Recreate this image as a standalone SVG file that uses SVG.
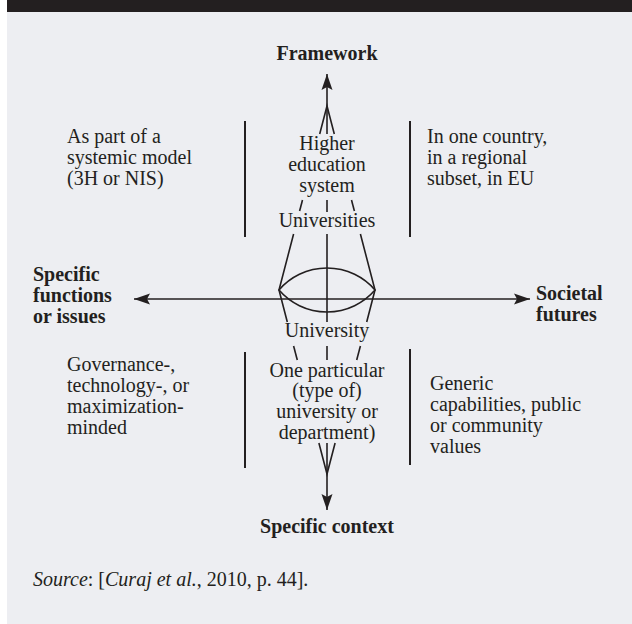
<svg xmlns="http://www.w3.org/2000/svg" width="632" height="624" viewBox="0 0 632 624">
<defs>
<style>
.t{font-family:"Liberation Serif","Times New Roman",serif;font-size:20px;fill:#231f20}
.b{font-weight:bold}
.c{text-anchor:middle}
.ln{stroke:#231f20;stroke-width:1.6;fill:none}
.sep{stroke:#231f20;stroke-width:2;fill:none}
</style>
<marker id="ah" markerWidth="18" markerHeight="14" viewBox="-17 -7 18 14" refX="0" refY="0" orient="auto-start-reverse" markerUnits="userSpaceOnUse">
<path d="M0,0 L-16,-5.5 L-13,0 L-16,5.5 Z" fill="#231f20"/>
</marker>
</defs>
<rect x="0" y="0" width="632" height="624" fill="#ffffff"/>
<rect x="7" y="12" width="625" height="612" fill="#edeef2"/>
<rect x="7" y="0" width="625" height="12" fill="#231f20"/>
<g id="connectors">
<line class="ln" x1="134" y1="299" x2="530" y2="299" marker-start="url(#ah)" marker-end="url(#ah)"/>
<line class="ln" x1="327" y1="134" x2="327" y2="74" marker-end="url(#ah)"/>
<line class="ln" x1="327" y1="200" x2="327" y2="212"/>
<line class="ln" x1="327" y1="234" x2="327" y2="322"/>
<line class="ln" x1="327" y1="346" x2="327" y2="360"/>
<line class="ln" x1="327" y1="443" x2="327" y2="510" marker-end="url(#ah)"/>
<polyline class="ln" points="319.7,134 327,106 334.3,134"/>
<line class="ln" x1="302.5" y1="200" x2="299.6" y2="211"/>
<line class="ln" x1="351.5" y1="200" x2="354.4" y2="211"/>
<polyline class="ln" points="293.6,234 279,290 287.3,322"/>
<polyline class="ln" points="360.4,234 375,290 366.7,322"/>
<line class="ln" x1="293.6" y1="346" x2="297.3" y2="360"/>
<line class="ln" x1="360.4" y1="346" x2="356.7" y2="360"/>
<polyline class="ln" points="318.9,443 327,474 335.1,443"/>
<path class="ln" d="M279,290 A63.4,63.4 0 0 1 375,290 A63.4,63.4 0 0 1 279,290 Z"/>
<line class="sep" x1="245" y1="121" x2="245" y2="237"/>
<line class="sep" x1="410" y1="121" x2="410" y2="237"/>
<line class="sep" x1="245" y1="352" x2="245" y2="468"/>
<line class="sep" x1="410" y1="349" x2="410" y2="465"/>
</g>
<g id="framework"><text class="t b c" x="327" y="60">Framework</text></g>
<g id="specific-context"><text class="t b c" x="327" y="533">Specific context</text></g>
<g id="specific-functions"><text class="t b" x="33" y="281">Specific</text><text class="t b" x="33" y="302">functions</text><text class="t b" x="33" y="323">or issues</text></g>
<g id="societal-futures"><text class="t b" x="536" y="300" font-size="21">Societal</text><text class="t b" x="536" y="321" font-size="21">futures</text></g>
<g id="higher-education"><text class="t c" x="327" y="150">Higher</text><text class="t c" x="327" y="171">education</text><text class="t c" x="327" y="192">system</text></g>
<g id="universities"><text class="t c" x="327" y="227">Universities</text></g>
<g id="university"><text class="t c" x="327" y="337">University</text></g>
<g id="one-particular"><text class="t c" x="327" y="377">One particular</text><text class="t c" x="327" y="397">(type of)</text><text class="t c" x="327" y="418">university or</text><text class="t c" x="327" y="439">department)</text></g>
<g id="systemic"><text class="t" x="67" y="143">As part of a</text><text class="t" x="67" y="164">systemic model</text><text class="t" x="67" y="185">(3H or NIS)</text></g>
<g id="country"><text class="t" x="427" y="143">In one country,</text><text class="t" x="427" y="164">in a regional</text><text class="t" x="427" y="185">subset, in EU</text></g>
<g id="governance"><text class="t" x="67" y="371">Governance-,</text><text class="t" x="67" y="392">technology-, or</text><text class="t" x="67" y="413">maximization-</text><text class="t" x="67" y="434">minded</text></g>
<g id="generic"><text class="t" x="430" y="390">Generic</text><text class="t" x="430" y="411">capabilities, public</text><text class="t" x="430" y="432">or community</text><text class="t" x="430" y="453">values</text></g>
<g id="source"><text class="t" x="33" y="586"><tspan font-style="italic">Source</tspan>: [<tspan font-style="italic">Curaj et al.</tspan>, 2010, p. 44].</text></g>
</svg>
